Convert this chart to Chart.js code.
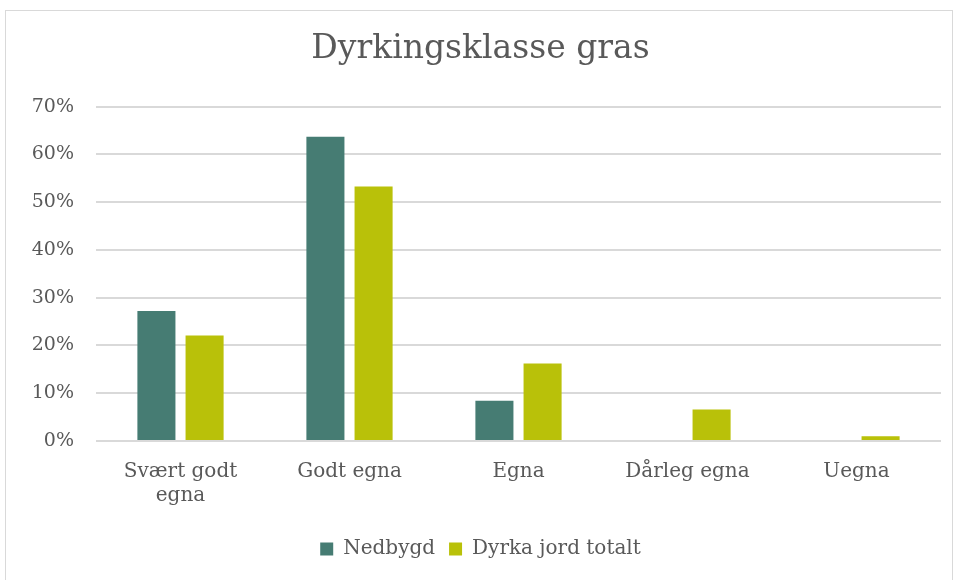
<!DOCTYPE html>
<html>
<head>
<meta charset="utf-8">
<script src="https://cdn.jsdelivr.net/npm/chart.js@4"></script>
<style>
  html, body { margin:0; padding:0; background:#fff; }
  #frame { position:absolute; left:5px; top:10px; width:946px; height:580px; border:1px solid #d9d9d9; }
  #wrap { position:absolute; left:0; top:0; width:957px; height:580px; }
</style>
</head>
<body>
<div id="frame"></div>
<div id="wrap"><canvas id="chart"></canvas></div>
<script>
// categories and series
const categories = [['Svært godt', 'egna'], 'Godt egna', 'Egna', 'Dårleg egna', 'Uegna'];
const nedbygd = [27.2, 63.7, 8.4, 0, 0];
const dyrkaJord = [22.1, 53.3, 16.2, 6.6, 1.0];
const yTicks = [0, 10, 20, 30, 40, 50, 60, 70];

const FONT = "Georgia, 'DejaVu Serif', serif";
const TXT = '#595959';

new Chart(document.getElementById('chart').getContext('2d'), {
  type: 'bar',
  data: {
    labels: categories,
    datasets: [
      { label: 'Nedbygd', data: nedbygd, backgroundColor: '#467c73' },
      { label: 'Dyrka jord totalt', data: dyrkaJord, backgroundColor: '#b9c109' }
    ]
  },
  options: {
    responsive: true,
    maintainAspectRatio: false,
    animation: false,
    categoryPercentage: 0.57,
    barPercentage: 0.79,
    layout: { padding: { left: 20, right: 16, top: 22, bottom: 11 } },
    plugins: {
      title: {
        display: true,
        text: 'Dyrkingsklasse gras',
        color: TXT,
        font: { family: FONT, size: 33, weight: 'normal' },
        padding: { top: 8, bottom: 37 }
      },
      legend: {
        position: 'bottom',
        labels: {
          color: TXT,
          font: { family: FONT, size: 20 },
          boxWidth: 13, boxHeight: 13, padding: 14
        }
      },
      tooltip: { enabled: false }
    },
    scales: {
      x: {
        afterFit: s => { s.height += 6; },
        grid: { display: false },
        border: { display: false },
        ticks: { color: TXT, font: { family: FONT, size: 20 }, padding: 11, maxRotation: 0 }
      },
      y: {
        min: 0, max: 70,
        afterBuildTicks: s => { s.ticks = yTicks.map(v => ({ value: v })); },
        afterFit: s => { s.width = 76; },
        grid: { color: '#d9d9d9', lineWidth: 2, drawTicks: false },
        border: { display: false },
        ticks: { color: TXT, font: { family: FONT, size: 19 }, padding: 22, callback: v => v + '%' }
      }
    }
  }
});
</script>
</body>
</html>
